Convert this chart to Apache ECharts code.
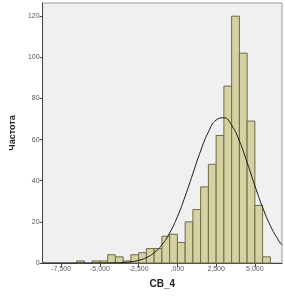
<!DOCTYPE html>
<html lang="ru">
<head>
    <meta charset="UTF-8">
    <title>СВ_4</title>
    <script src="https://cdn.jsdelivr.net/npm/echarts@6/dist/echarts.min.js"></script>
    <style type="text/css">
        * { margin: 0; padding: 0; }
        html, body { width: 285px; height: 299px; background: #fff; }
    </style>
</head>
<body>
<div id="main" style="width: 285px;height:299px;"></div>

<script type="text/javascript">
    // интервалы гистограммы (начало интервала), ширина 500
    var binWidth = 500;
    var binStarts = [-6500, -6000, -5500, -5000, -4500, -4000, -3500, -3000, -2500, -2000, -1500, -1000, -500,
        0, 500, 1000, 1500, 2000, 2500, 3000, 3500, 4000, 4500, 5000, 5500];
    var counts = [1, 0, 1, 1, 4, 3, 1, 4, 5, 7, 7, 13, 14,
        10, 20, 26, 37, 48, 62, 86, 120, 102, 69, 28, 3];

    // нормальная кривая, точки
    var curveX = [-8700, -5000, -4000, -3500, -3000, -2500, -2000, -1500, -1000, -500, 0, 500, 1000, 1500,
        2000, 2500, 3000, 3500, 4000, 4500, 5000, 5500, 6000, 6500, 6750];
    var curveY = [0, 0, 0.1, 0.25, 0.6, 1.3, 2.6, 5, 8.8, 14.6, 22.5, 32.4, 43.5, 54.5,
        63.7, 69.5, 70.6, 67, 59.3, 48.9, 37.6, 27, 18.1, 11.3, 8.7];

    var xTicks = [-7500, -5000, -2500, 0, 2500, 5000];
    var xTickLabels = ['-7,500', '-5,000', '-2,500', ',000', '2,500', '5,000'];
    var yTicks = [0, 20, 40, 60, 80, 100, 120];

    var myChart = echarts.init(document.getElementById('main'));

    function renderBar(params, api) {
        var start = api.value(0);
        var count = api.value(1);
        if (!count) return null;
        var p0 = api.coord([start, 0]);
        var p1 = api.coord([start + binWidth, count]);
        return {
            type: 'rect',
            shape: {x: p0[0], y: p1[1], width: p1[0] - p0[0], height: p0[1] - p1[1]},
            style: {fill: '#d5d1a1', stroke: '#6e6c4c', lineWidth: 1}
        };
    }

    var option = {
        animation: false,
        textStyle: {fontFamily: 'Liberation Sans'},
        grid: {
            left: 39, right: 3, top: 3, bottom: 36,
            show: true, backgroundColor: '#f0f0f0', borderColor: '#9a9a9a', borderWidth: 1
        },
        xAxis: {
            type: 'value',
            min: -8700,
            max: 6750,
            name: 'СВ_4',
            nameLocation: 'middle',
            nameGap: 16,
            nameTextStyle: {fontSize: 10, fontWeight: 'bold', color: '#222'},
            splitLine: {show: false},
            axisLine: {onZero: false, lineStyle: {color: '#444', width: 1}},
            axisTick: {customValues: xTicks, length: 4, lineStyle: {color: '#444'}},
            axisLabel: {
                customValues: xTicks,
                fontSize: 7, color: '#555', margin: 3,
                formatter: function (v) {
                    return xTickLabels[xTicks.indexOf(v)];
                }
            }
        },
        yAxis: {
            type: 'value',
            min: 0,
            max: 126.4,
            name: 'Частота',
            nameLocation: 'middle',
            nameGap: 21,
            nameRotate: 90,
            nameTextStyle: {fontSize: 9, fontWeight: 'bold', color: '#222'},
            splitLine: {show: false},
            axisLine: {show: true, onZero: false, lineStyle: {color: '#444', width: 1}},
            axisTick: {customValues: yTicks, length: 3, lineStyle: {color: '#444'}},
            axisLabel: {customValues: yTicks, fontSize: 7, color: '#555', margin: 3}
        },
        series: [
            {
                type: 'custom',
                renderItem: renderBar,
                encode: {x: 0, y: 1},
                data: binStarts.map(function (s, i) { return [s, counts[i]]; })
            },
            {
                type: 'line',
                smooth: true,
                showSymbol: false,
                z: 5,
                lineStyle: {color: '#1a1a1a', width: 1},
                data: curveX.map(function (x, i) { return [x, curveY[i]]; })
            }
        ]
    };
    myChart.setOption(option);
</script>
</body>
</html>
